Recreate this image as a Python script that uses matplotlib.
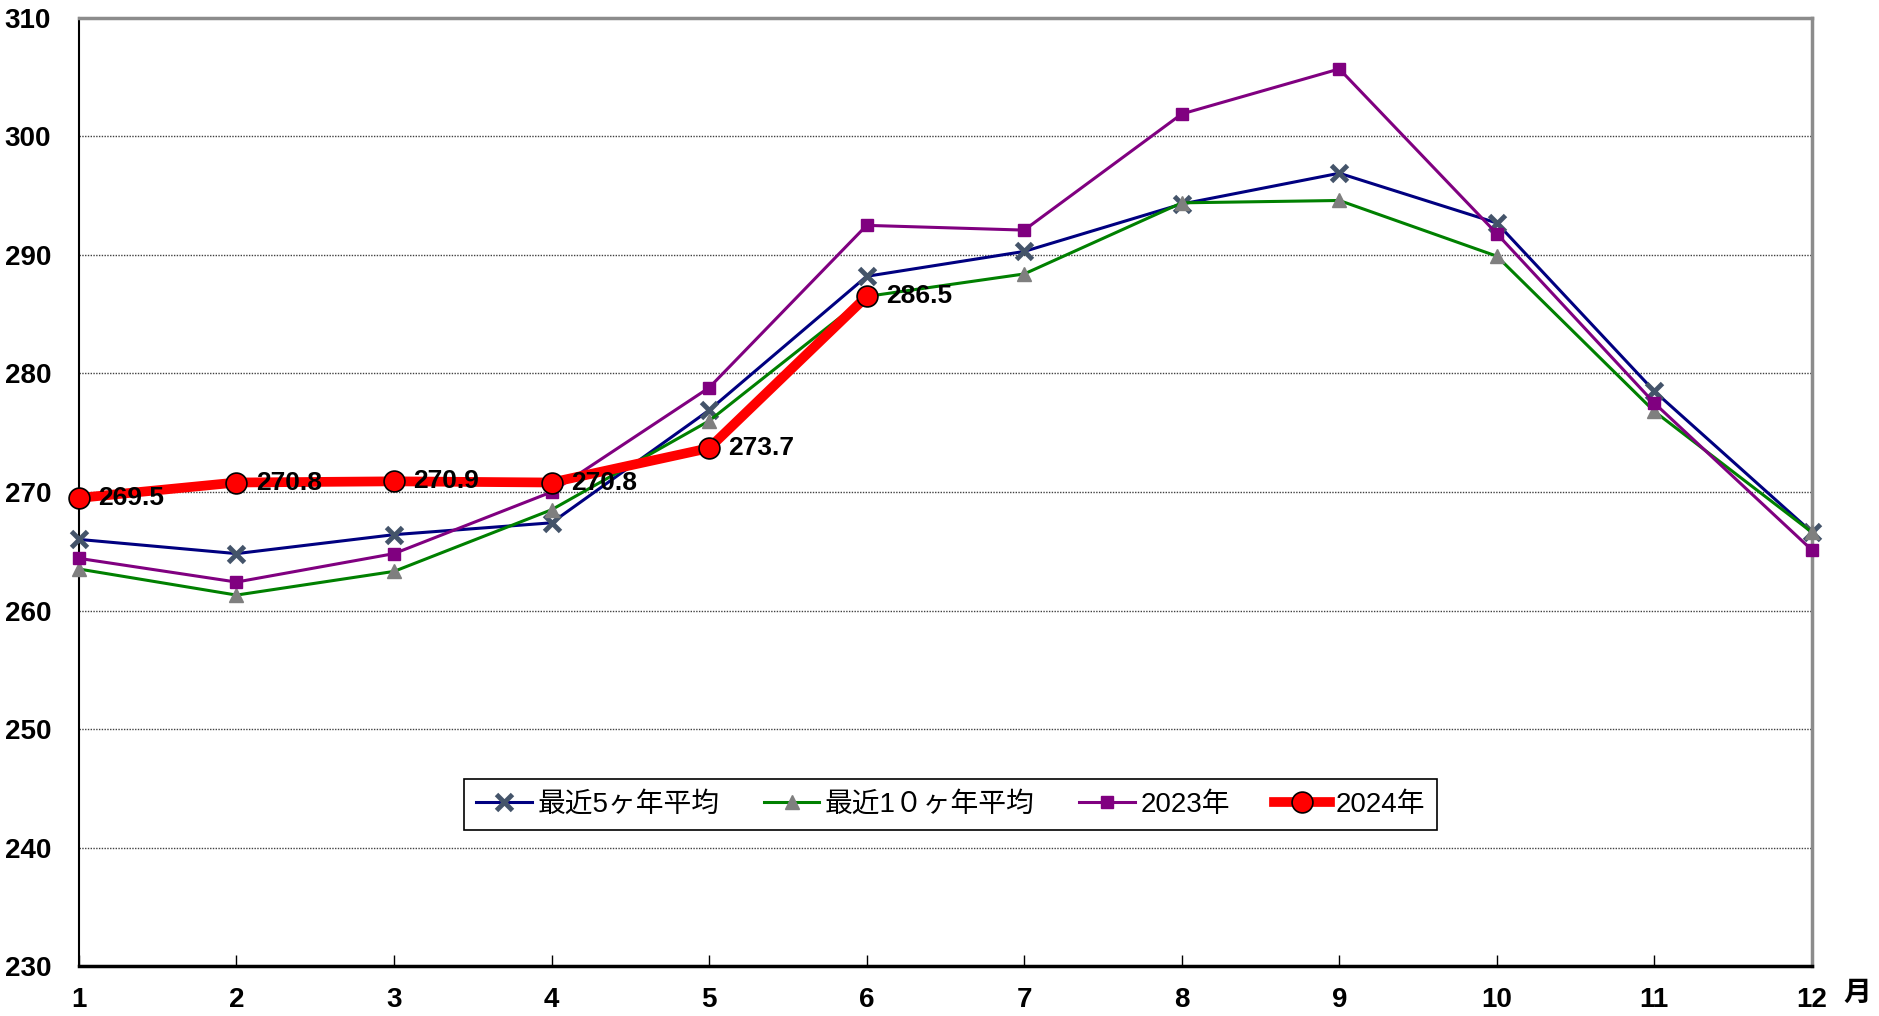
import matplotlib
matplotlib.use("Agg")
import matplotlib.pyplot as plt
from matplotlib.ticker import MultipleLocator

plt.rcParams['font.family'] = ['Liberation Sans Narrow', 'Liberation Sans', 'Noto Sans CJK JP', 'DejaVu Sans']

months = [1, 2, 3, 4, 5, 6, 7, 8, 9, 10, 11, 12]
avg5 = [266.0, 264.8, 266.4, 267.4, 276.9, 288.2, 290.3, 294.3, 296.9, 292.7, 278.5, 266.6]
avg10 = [263.5, 261.3, 263.3, 268.5, 276.0, 286.5, 288.4, 294.4, 294.6, 289.9, 276.8, 266.6]
y2023 = [264.4, 262.4, 264.8, 270.0, 278.8, 292.5, 292.1, 301.9, 305.7, 291.8, 277.5, 265.1]
months2024 = [1, 2, 3, 4, 5, 6]
y2024 = [269.5, 270.8, 270.9, 270.8, 273.7, 286.5]
labels = ['最近5ヶ年平均', '最近1０ヶ年平均', '2023年', '2024年']

fig = plt.figure(figsize=(18.79, 10.16), dpi=100)
ax = fig.add_axes([0.042, 0.0492, 0.9223, 0.9331])

ax.plot(months, avg5, color='#000080', lw=2.2, marker='x', ms=12, mew=3.5,
        mec='#44546A', label=labels[0], zorder=3, clip_on=False)
ax.plot(months, avg10, color='#008000', lw=2.2, marker='^', ms=10,
        mfc='#7F7F7F', mec='#7F7F7F', label=labels[1], zorder=3, clip_on=False)
ax.plot(months, y2023, color='#800080', lw=2.2, marker='s', ms=8,
        mfc='#800080', mec='#800080', label=labels[2], zorder=3, clip_on=False)
ax.plot(months2024, y2024, color='#FF0000', lw=7, marker='o', ms=15,
        mfc='#FF0000', mec='black', mew=1.2, label=labels[3], zorder=4, clip_on=False)

for m, v in zip(months2024, y2024):
    ax.annotate(f'{v:.1f}', (m, v), xytext=(14, 0), textcoords='offset points',
                va='center', ha='left', fontsize=19, fontweight='bold', zorder=5)

ax.set_xlim(1, 12)
ax.set_ylim(230, 310)
ax.set_xticks(months)
ax.yaxis.set_major_locator(MultipleLocator(10))
ax.grid(axis='y', linestyle=(0, (1, 1)), color='#404040', lw=1.0)
ax.set_axisbelow(True)

ax.tick_params(axis='x', direction='in', length=8, width=1, pad=15, labelsize=20)
ax.tick_params(axis='y', length=0, pad=20, labelsize=20)
for lab in ax.get_xticklabels() + ax.get_yticklabels():
    lab.set_fontweight('bold')

for s in ['left', 'bottom']:
    ax.spines[s].set_color('black')
    ax.spines[s].set_linewidth(1.5)
ax.spines['bottom'].set_linewidth(2.5)
for s in ['top', 'right']:
    ax.spines[s].set_color('#8C8C8C')
    ax.spines[s].set_linewidth(2.5)

fig.text(1857 / 1879, 1 - 994 / 1016, '月', fontsize=20, fontweight='bold',
         ha='center', va='center')

leg = ax.legend(loc='center', bbox_to_anchor=(0.503, 0.17), ncol=4, fontsize=20,
                frameon=True, fancybox=False, edgecolor='black', framealpha=1,
                handlelength=2.0, handletextpad=0.2, columnspacing=1.6, borderpad=0.45)
leg.get_frame().set_linewidth(1.2)

fig.savefig('out.png', dpi=100)
